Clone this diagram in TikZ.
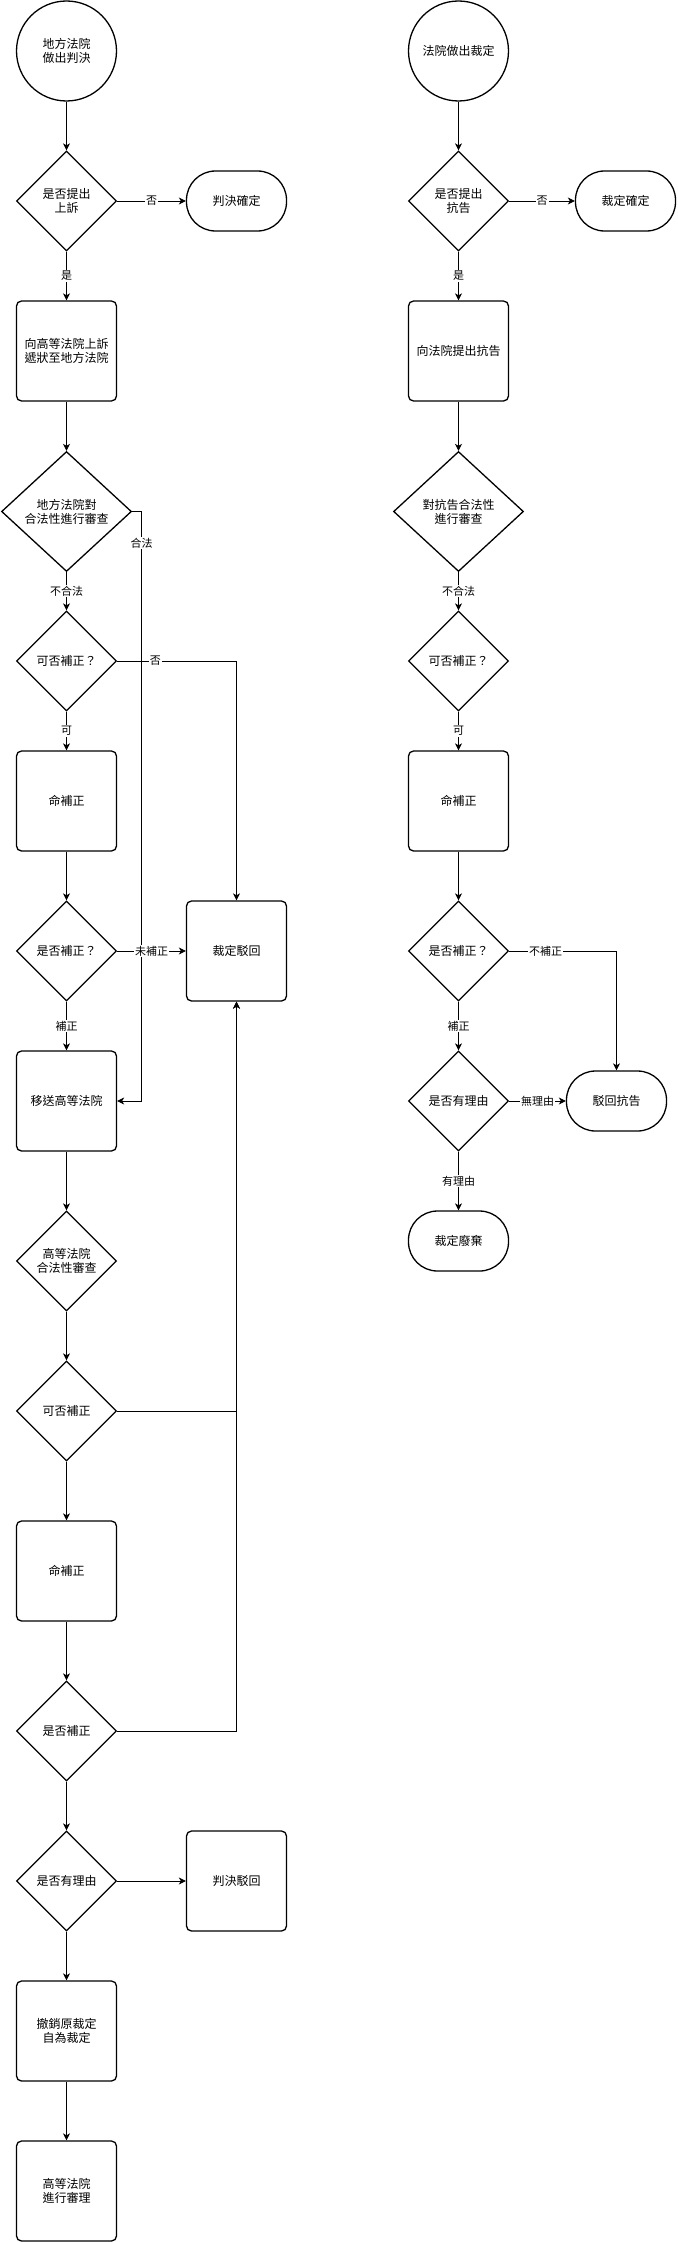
\documentclass[tikz,border=0pt]{standalone}
\usepackage{fontspec}
\setmainfont{Noto Sans CJK TC}
\usetikzlibrary{shapes.geometric,arrows.meta}
\begin{document}
\begin{tikzpicture}[x=1pt,y=-1pt,
  every node/.style={font=\fontsize{12}{14}\selectfont, align=center},
  proc/.style={draw, line width=1.3pt, rounded corners=5pt, minimum width=100pt, minimum height=100pt, inner sep=0pt},
  term/.style={draw, line width=1.3pt, rounded corners=29pt, minimum width=100pt, minimum height=60pt, inner sep=0pt},
  start/.style={draw, circle, line width=1.3pt, minimum size=100pt, inner sep=0pt},
  dec/.style={draw, diamond, line width=1.3pt, minimum width=100pt, minimum height=100pt, inner sep=0pt, shape aspect=1},
  conn/.style={line width=0.8pt, -{Stealth[length=7pt,width=7pt,inset=2pt]}},
  lbl/.style={fill=white, inner sep=1pt, font=\fontsize{11}{13}\selectfont}
]
\useasboundingbox (0,0) rectangle (677,2242);

% ---------- left column ----------
\node[start] (ls) at (66.5,51) {地方法院\\做出判決};
\node[dec] (ld1) at (66.5,201) {是否提出\\上訴};
\node[term] (lt1) at (236.5,201) {判決確定};
\node[proc] (lp1) at (66.5,351) {向高等法院上訴\\遞狀至地方法院};
\node[dec, minimum width=130pt, minimum height=120pt] (ld2) at (66.5,511.5) {地方法院對\\合法性進行審查};
\node[dec] (ld3) at (66.5,661) {可否補正？};
\node[proc] (lp2) at (66.5,801) {命補正};
\node[dec] (ld4) at (66.5,951) {是否補正？};
\node[proc] (lrej) at (236.5,951) {裁定駁回};
\node[proc] (lp3) at (66.5,1101) {移送高等法院};
\node[dec] (ld5) at (66.5,1261) {高等法院\\合法性審查};
\node[dec] (ld6) at (66.5,1411) {可否補正};
\node[proc] (lp4) at (66.5,1571) {命補正};
\node[dec] (ld7) at (66.5,1731) {是否補正};
\node[dec] (ld8) at (66.5,1881) {是否有理由};
\node[proc] (lrej2) at (236.5,1881) {判決駁回};
\node[proc] (lp5) at (66.5,2031) {撤銷原裁定\\自為裁定};
\node[proc] (lp6) at (66.5,2191) {高等法院\\進行審理};

\coordinate (j1) at (141.5,511.5);
\coordinate (j1b) at (141.5,1101);

\draw[conn] (ls) -- (ld1);
\draw[conn] (ld1) -- node[lbl] (l1) {否} (lt1);
\draw[conn] (ld1) -- node[lbl] (l2) {是} (lp1);
\draw[conn] (lp1) -- (ld2);
\draw[conn] (ld2.east) -- (j1) -- node[lbl, pos=0.054] (l3) {合法} (j1b) -- (lp3.east);
\draw[conn] (ld2) -- node[lbl] (l4) {不合法} (ld3);
\draw[conn] (ld3.east) -| node[lbl, pos=0.16] (l5) {否} (lrej.north);
\draw[conn] (ld3) -- node[lbl] (l6) {可} (lp2);
\draw[conn] (lp2) -- (ld4);
\draw[conn] (ld4) -- node[lbl] (l7) {未補正} (lrej);
\draw[conn] (ld4) -- node[lbl] (l8) {補正} (lp3);
\draw[conn] (lp3) -- (ld5);
\draw[conn] (ld5) -- (ld6);
\draw[conn] (ld6.east) -| (lrej.south);
\draw[conn] (ld6) -- (lp4);
\draw[conn] (lp4) -- (ld7);
\draw[conn] (ld7.east) -| (lrej.south);
\draw[conn] (ld7) -- (ld8);
\draw[conn] (ld8) -- (lrej2);
\draw[conn] (ld8) -- (lp5);
\draw[conn] (lp5) -- (lp6);

% ---------- right column ----------
\node[start] (rs) at (458.5,51) {法院做出裁定};
\node[dec] (rd1) at (458.5,201) {是否提出\\抗告};
\node[term] (rt1) at (625.5,201) {裁定確定};
\node[proc] (rp1) at (458.5,351) {向法院提出抗告};
\node[dec, minimum width=130pt, minimum height=120pt] (rd2) at (458.5,511.5) {對抗告合法性\\進行審查};
\node[dec] (rd3) at (458.5,661) {可否補正？};
\node[proc] (rp2) at (458.5,801) {命補正};
\node[dec] (rd4) at (458.5,951) {是否補正？};
\node[dec] (rd5) at (458.5,1101) {是否有理由};
\node[term] (rt2) at (616.5,1101) {駁回抗告};
\node[term] (rt3) at (458.5,1241) {裁定廢棄};

\draw[conn] (rs) -- (rd1);
\draw[conn] (rd1) -- node[lbl] (r1) {否} (rt1);
\draw[conn] (rd1) -- node[lbl] (r2) {是} (rp1);
\draw[conn] (rp1) -- (rd2);
\draw[conn] (rd2) -- node[lbl] (r3) {不合法} (rd3);
\draw[conn] (rd3) -- node[lbl] (r4) {可} (rp2);
\draw[conn] (rp2) -- (rd4);
\draw[conn] (rd4.east) -| node[lbl, pos=0.17] (r5) {不補正} (rt2.north);
\draw[conn] (rd4) -- node[lbl] (r6) {補正} (rd5);
\draw[conn] (rd5) -- node[lbl] (r7) {無理由} (rt2);
\draw[conn] (rd5) -- node[lbl] (r8) {有理由} (rt3);
\end{tikzpicture}
\end{document}
